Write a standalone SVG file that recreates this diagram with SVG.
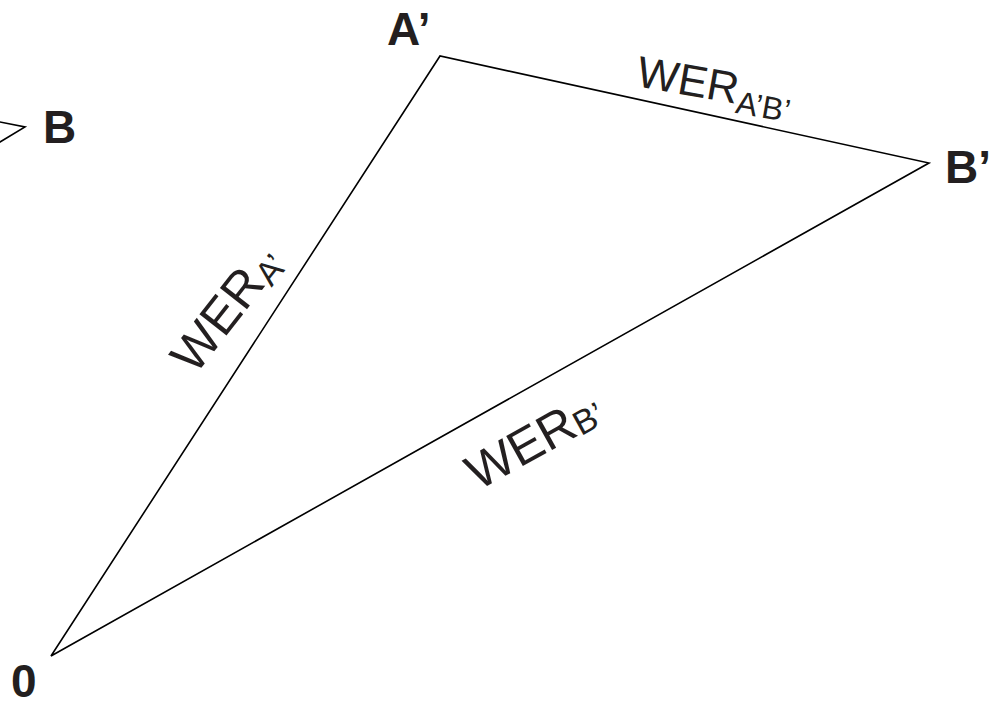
<svg xmlns="http://www.w3.org/2000/svg" width="992" height="701" viewBox="0 0 992 701">
<style>
.edge{fill:none;stroke:#000;stroke-width:1.6;stroke-linejoin:miter}
.lbl{font-family:"Liberation Sans",Arial,sans-serif;font-weight:bold;font-size:46px;fill:#231f20}
.wer{font-family:"Liberation Sans",Arial,sans-serif;font-size:50px;fill:#231f20}
.sub{font-size:34px}
</style>
<rect width="992" height="701" fill="#fff"/>
<g id="connectors">
<polyline class="edge" points="-20,118 25,127 -20,154"/>
<polygon class="edge" points="51,656 440,56 929,163"/>
</g>
<g id="node-B"><text class="lbl" x="43" y="143">B</text></g>
<g id="node-A1"><text class="lbl" x="387" y="45">A’</text></g>
<g id="node-B1"><text class="lbl" x="945" y="183">B’</text></g>
<g id="node-0"><text class="lbl" x="11" y="697">0</text></g>
<g id="label-WERA1B1"><text class="wer" style="font-size:44px" transform="translate(635,86) rotate(10)">WER<tspan class="sub" style="font-size:32px" dy="9">A’B’</tspan></text></g>
<g id="label-WERA1"><text class="wer" transform="translate(195,376) rotate(-52)">WER<tspan class="sub" dy="6">A’</tspan></text></g>
<g id="label-WERB1"><text class="wer" transform="translate(478,491) rotate(-29)">WER<tspan class="sub" dy="2">B’</tspan></text></g>
</svg>
